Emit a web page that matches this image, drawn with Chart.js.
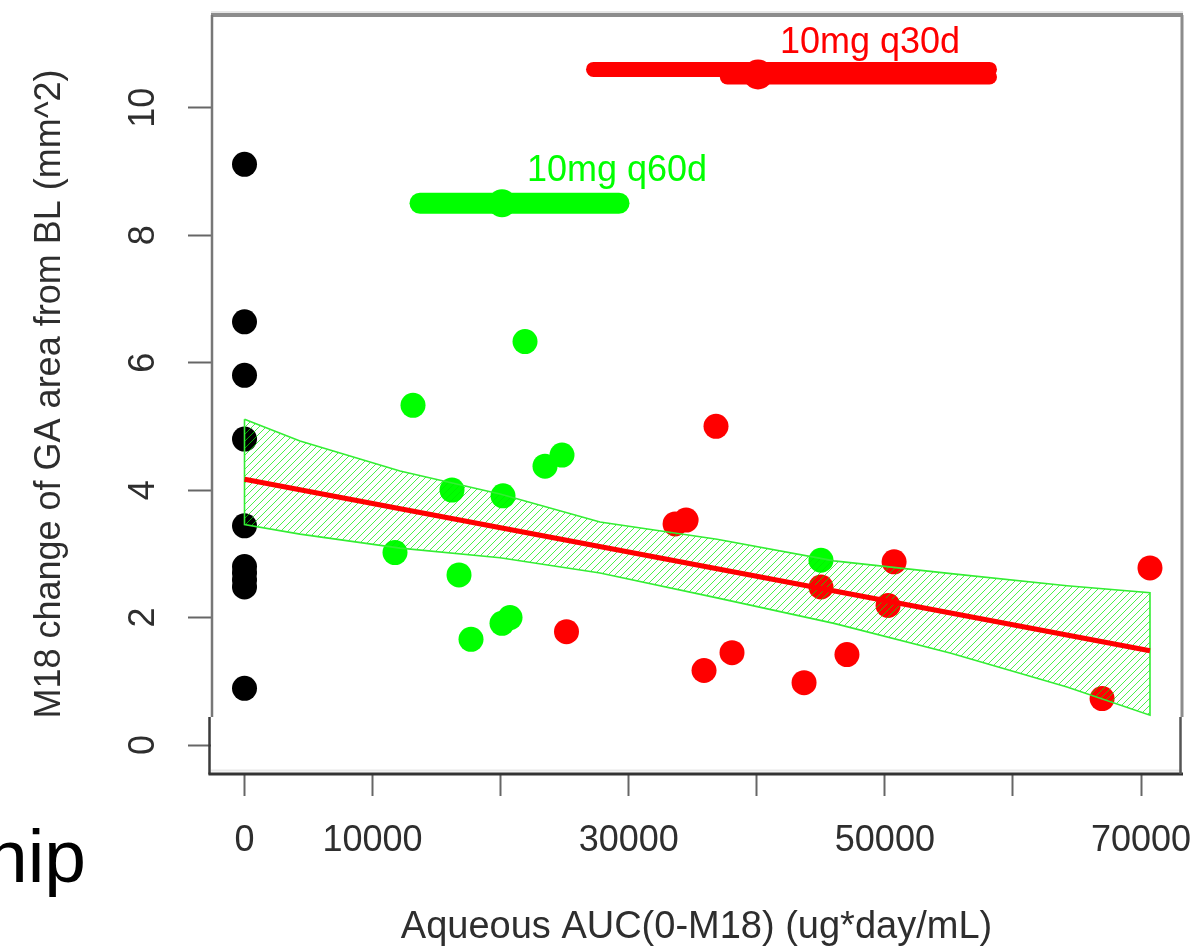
<!DOCTYPE html>
<html>
<head>
<meta charset="utf-8">
<title>AUC vs GA change</title>
<script src="https://cdn.jsdelivr.net/npm/chart.js@4.4.1/dist/chart.umd.min.js"></script>
<style>
  html, body { margin: 0; padding: 0; background: #fff; }
  #wrap { width: 1202px; height: 947px; position: relative; }
</style>
</head>
<body>
<div id="wrap"><canvas id="gaChart"></canvas></div>
<script>
// values
const shamY = [9.11, 6.64, 5.80, 4.80, 3.44, 2.80, 2.70, 2.59, 2.48, 0.89];

const q60X = [13157, 16202, 20185, 23464, 24791, 11751, 16749, 17686, 20107, 20732, 21903, 45010];
const q60Y = [5.33, 4.00, 3.91, 4.375, 4.55, 3.02, 2.67, 1.66, 1.91, 2.00, 6.33, 2.90];

const q30X = [25141, 36815, 33620, 34480, 45010, 50720, 50250, 70700, 35880, 38065, 43690, 47040, 66960];
const q30Y = [1.78, 5.00, 3.47, 3.53, 2.48, 2.875, 2.19, 2.78, 1.17, 1.45, 0.98, 1.42, 0.73];

const fitX = [0, 70700];
const fitY = [4.17, 1.48];

const bandX = [0, 4333, 12142, 19950, 27758, 36894, 46030, 55165, 64223, 70700];
const bandUpper = [5.11, 4.77, 4.30, 3.94, 3.50, 3.23, 2.89, 2.69, 2.50, 2.39];
const bandLower = [3.46, 3.31, 3.09, 2.94, 2.70, 2.31, 1.91, 1.44, 0.91, 0.47];

// dose group summary bars at the top
const q60BarX = [13704, 29242];
const q60BarY = 8.5;
const q60Mean = [20107, 8.5];
const q30BarX = [27250, 58170];
const q30BarY = 10.6;
const q30Bar2X = [37700, 58170];
const q30Bar2Y = 10.48;
const q30Mean = [40095, 10.52];

const labelText = ['10mg q60d', '10mg q30d'];
const labelX = [29086, 48840];
const labelY = [9.0, 11.02];
const labelColor = ['#00ff00', '#ff0000'];

const xTickValues = [0, 10000, 20000, 30000, 40000, 50000, 60000, 70000];
const xTickLabels = ['0', '10000', '', '30000', '', '50000', '', '70000'];
const yTickValues = [0, 2, 4, 6, 8, 10];
const yTickLabels = ['0', '2', '4', '6', '8', '10'];

const xTitle = 'Aqueous AUC(0-M18) (ug*day/mL)';
const yTitle = 'M18 change of GA area from BL (mm^2)';

const FONT = "'Liberation Sans', Arial, sans-serif";
const INK = '#2e2e2e';

const pts = (xs, ys) => xs.map((x, i) => ({ x: x, y: ys[i] }));

function hatchPattern() {
  const s = 7;
  const c = document.createElement('canvas');
  c.width = s; c.height = s;
  const g = c.getContext('2d');
  g.strokeStyle = 'rgba(0, 235, 0, 0.7)';
  g.lineWidth = 1;
  g.beginPath();
  g.moveTo(0, s); g.lineTo(s, 0);
  g.moveTo(-1, 1); g.lineTo(1, -1);
  g.moveTo(s - 1, s + 1); g.lineTo(s + 1, s - 1);
  g.stroke();
  return g.createPattern(c, 'repeat');
}

// closed outline of the confidence band
const bandPts = pts(bandX, bandUpper)
  .concat(pts(bandX, bandLower).reverse());
bandPts.push(bandPts[0]);

// R style plot frame, drawn after the data
const framePlugin = {
  id: 'frame',
  afterDraw(chart) {
    const { ctx, chartArea: a } = chart;
    const seg = (x1, y1, x2, y2, w, c) => {
      ctx.beginPath();
      ctx.strokeStyle = c;
      ctx.lineWidth = w;
      ctx.moveTo(x1, y1);
      ctx.lineTo(x2, y2);
      ctx.stroke();
    };
    ctx.save();
    seg(a.left, a.top - 3, a.right + 1, a.top - 3, 2, '#e6e6e6');
    seg(a.left, a.top, a.right + 1, a.top, 4, '#8c8c8c');
    seg(a.left + 1, a.top, a.left + 1, 717, 2.5, '#777');
    seg(a.left - 1.5, 717, a.left - 1.5, a.bottom + 1.5, 2.5, '#3a3a3a');
    seg(a.left, a.bottom - 2.5, a.right, a.bottom - 2.5, 2, '#e8e8e8');
    seg(a.left - 2.5, a.bottom + 1, a.right + 1, a.bottom + 1, 3, '#333');
    seg(a.right, a.top, a.right, 717, 3, '#8c8c8c');
    seg(a.right - 1.5, 717, a.right - 1.5, a.bottom + 1, 2.5, '#555');
    ctx.restore();
  }
};

const textPlugin = {
  id: 'groupText',
  afterDatasetsDraw(chart) {
    const { ctx, scales } = chart;
    ctx.save();
    ctx.font = '36px ' + FONT;
    ctx.textAlign = 'center';
    ctx.textBaseline = 'middle';
    labelText.forEach((t, i) => {
      ctx.fillStyle = labelColor[i];
      ctx.fillText(t, scales.x.getPixelForValue(labelX[i]), scales.y.getPixelForValue(labelY[i]));
    });
    // slide text cut off at the left edge
    ctx.fillStyle = '#000';
    ctx.font = '75px ' + FONT;
    ctx.textAlign = 'right';
    ctx.textBaseline = 'alphabetic';
    ctx.fillText('hip', 86, 882);
    ctx.restore();
  }
};

document.addEventListener('DOMContentLoaded', () => {
  const ctx = document.getElementById('gaChart').getContext('2d');
  const tickFont = { family: FONT, size: 36 };

  new Chart(ctx, {
    type: 'scatter',
    data: {
      datasets: [
        { data: pts(fitX, fitY), showLine: true, borderColor: '#ff0000', borderWidth: 5, pointRadius: 0, order: 1 },
        { data: bandPts, showLine: true, fill: 'shape', backgroundColor: hatchPattern(),
          borderColor: '#33ee33', borderWidth: 1.6, pointRadius: 0, order: 2 },
        { data: pts(shamY.map(() => 0), shamY), backgroundColor: '#000', pointRadius: 12.5, borderWidth: 0, order: 3 },
        { data: pts(q60X, q60Y), backgroundColor: '#00ff00', pointRadius: 12.5, borderWidth: 0, order: 3 },
        { data: pts(q30X, q30Y), backgroundColor: '#ff0000', pointRadius: 12.5, borderWidth: 0, order: 3 },
        { data: pts(q60BarX, [q60BarY, q60BarY]), showLine: true, borderColor: '#00ff00', borderWidth: 21,
          borderCapStyle: 'round', pointRadius: 0, order: 0 },
        { data: pts(q30BarX, [q30BarY, q30BarY]), showLine: true, borderColor: '#ff0000', borderWidth: 15,
          borderCapStyle: 'round', pointRadius: 0, order: 0 },
        { data: pts(q30Bar2X, [q30Bar2Y, q30Bar2Y]), showLine: true, borderColor: '#ff0000', borderWidth: 15,
          borderCapStyle: 'round', pointRadius: 0, order: 0 },
        { data: [{ x: q60Mean[0], y: q60Mean[1] }], backgroundColor: '#00ff00', pointRadius: 14, borderWidth: 0, order: 0 },
        { data: [{ x: q30Mean[0], y: q30Mean[1] }], backgroundColor: '#ff0000', pointRadius: 15, borderWidth: 0, order: 0 }
      ]
    },
    options: {
      responsive: true,
      maintainAspectRatio: false,
      animation: false,
      devicePixelRatio: 1,
      layout: { padding: { top: 12, right: 20, left: 0, bottom: 0 } },
      plugins: {
        legend: { display: false },
        tooltip: { enabled: false }
      },
      scales: {
        x: {
          type: 'linear',
          min: -2616,
          max: 73200,
          afterBuildTicks: (s) => { s.ticks = xTickValues.map((v) => ({ value: v })); },
          afterFit: (s) => { s.height = 174; s.paddingLeft = 0; s.paddingRight = 0; },
          ticks: {
            autoSkip: false, minRotation: 0, maxRotation: 0, padding: 23,
            color: INK, font: tickFont,
            callback: (v, i) => xTickLabels[i]
          },
          grid: { drawOnChartArea: false, drawTicks: true, tickLength: 23, tickWidth: 2, tickColor: '#666' },
          border: { display: false },
          title: {
            display: true, text: xTitle, color: INK,
            font: { family: FONT, size: 38, lineHeight: 1 },
            padding: { top: 0, bottom: 0 }
          }
        },
        y: {
          type: 'linear',
          min: -0.4375,
          max: 11.453,
          afterBuildTicks: (s) => { s.ticks = yTickValues.map((v) => ({ value: v })); },
          afterFit: (s) => { s.width = 211; s.paddingTop = 0; s.paddingBottom = 0; },
          ticks: {
            autoSkip: false, minRotation: 90, maxRotation: 90, padding: 24, crossAlign: 'center',
            color: INK, font: tickFont,
            callback: (v, i) => yTickLabels[i]
          },
          grid: { drawOnChartArea: false, drawTicks: true, tickLength: 23, tickWidth: 2, tickColor: '#666' },
          border: { display: false },
          title: {
            display: true, text: yTitle, color: INK,
            font: { family: FONT, size: 36, lineHeight: 1 },
            padding: { top: 32, bottom: 0 }
          }
        }
      }
    },
    plugins: [textPlugin, framePlugin]
  });
});
</script>
</body>
</html>
